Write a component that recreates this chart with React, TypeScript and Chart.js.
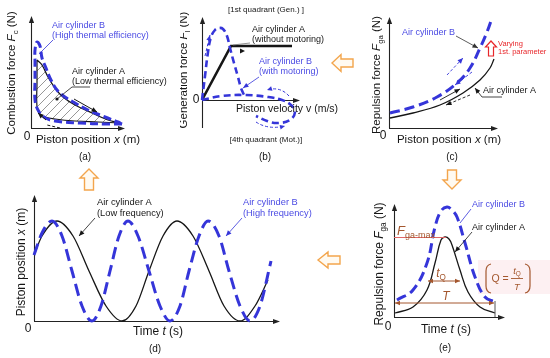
import React, { useEffect, useRef } from "react";
import { Chart, registerables } from "chart.js";
Chart.register(...registerables);

const FONT = '"Liberation Sans", Arial, Helvetica, sans-serif';
const BLUE = "#3535d9";
const BLUE_T = "#4b4be3";
const BROWN = "#a4572e";
const RED = "#e8262a";
const ORANGE = "#f3a54c";
const INK = "#161616";

type P = [number, number];

// ---------- (a) combustion force vs piston position ----------
const aBlueLoop: P[] = [[91, 4], [74, 4], [49, 5], [24, 7], [13, 11], [7, 18], [4, 28], [4, 48], [4, 68], [4, 78], [6, 86], [9, 82], [11, 70], [15, 60], [19, 50], [26, 38], [34, 31], [44, 25], [57, 18], [74, 11], [87, 6], [91, 4]];
const aBlackUpper: P[] = [[6, 68], [11, 63], [17, 51], [24, 40], [32, 31], [44, 23], [61, 15], [77, 8], [89, 5]];
const aBlackLower: P[] = [[6, 68], [6, 45], [6, 21], [9, 14], [14, 11], [24, 9], [44, 7], [67, 6], [89, 5]];
const aHatchBase: P[] = [[6, 21], [9, 14], [14, 11], [24, 9], [44, 7], [67, 6], [89, 5]];

// ---------- (b) generation force vs piston velocity ----------
const bBlackLine: P[] = [[0, 0], [29, 54], [90, 54]];
const bBlueUpper: P[] = [[0, 0], [3, 24], [6, 48], [9, 63], [13, 70], [17, 72], [21, 71], [25, 64], [28, 52], [32, 37], [36, 23], [39, 12], [43, 3]];
const bBlueLower: P[] = [[0, 0], [20, 4], [43, 5], [66, 3], [80, 0], [89, -5], [93, -12], [88, -20], [76, -23], [65, -21], [54, -16]];

// ---------- (c) repulsion force vs piston position ----------
const cBlack: P[] = [[1, 10], [24, 15], [51, 23], [74, 35], [91, 48], [101, 60], [105, 69]];
const cBlue: P[] = [[1, 15], [24, 21], [48, 31], [68, 45], [81, 60], [91, 80], [98, 96], [103, 110]];

// ---------- (d) piston position vs time ----------
const dBlack: P[] = [[0, 66], [8, 85], [23, 100], [39, 85], [55, 50], [72, 15], [88, 0], [102, 15], [115, 50], [129, 85], [143, 100], [159, 85], [175, 50], [190, 15], [206, 0], [221, 15], [234, 41]];
const dBlue: P[] = [[0, 66], [8, 88], [18, 100], [28, 85], [38, 50], [48, 15], [58, 0], [67, 15], [76, 50], [85, 85], [94, 100], [104, 85], [115, 50], [126, 15], [136, 0], [146, 15], [155, 50], [165, 85], [174, 100], [185, 85], [195, 50], [206, 15], [216, 0], [226, 15], [237, 60]];

// ---------- (e) repulsion force vs time ----------
const eBlack: P[] = [[1, 4], [19, 10], [33, 27], [41, 54], [47, 77], [51, 80], [55, 78], [58, 72], [66, 47], [74, 25], [86, 10], [101, 4]];
const eBlue: P[] = [[3, 17], [19, 27], [33, 54], [41, 90], [47, 106], [53, 110], [58, 107], [63, 100], [71, 74], [81, 40], [91, 20], [101, 15]];

const pts = (a: P[]) => a.map(([x, y]) => ({ x, y }));

// ---------- drawing helpers ----------
type Seg = string | [string, string];
function rich(ctx: any, segs: Seg[], x: number, y: number, size: number, color = INK, align = "center", rotate = false) {
  const parts = segs.map((s) => (typeof s === "string" ? { t: s, f: "", w: 0 } : { t: s[0], f: s[1], w: 0 }));
  const fontOf = (p: any) => `${p.f.includes("i") ? "italic " : ""}${p.f.includes("s") ? size * 0.68 : size}px ${FONT}`;
  let total = 0;
  for (const p of parts) {
    ctx.font = fontOf(p);
    p.w = ctx.measureText(p.t).width;
    total += p.w;
  }
  ctx.save();
  ctx.translate(x, y);
  if (rotate) ctx.rotate(-Math.PI / 2);
  let cx = align === "center" ? -total / 2 : align === "right" ? -total : 0;
  ctx.fillStyle = color;
  ctx.textBaseline = "middle";
  ctx.textAlign = "left";
  for (const p of parts) {
    ctx.font = fontOf(p);
    ctx.fillText(p.t, cx, p.f.includes("s") ? size * 0.32 : 0);
    cx += p.w;
  }
  ctx.restore();
}
function txt(ctx: any, s: string, x: number, y: number, size: number, color = INK, align = "center", italic = false) {
  ctx.save();
  ctx.font = `${italic ? "italic " : ""}${size}px ${FONT}`;
  ctx.fillStyle = color;
  ctx.textAlign = align;
  ctx.textBaseline = "middle";
  ctx.fillText(s, x, y);
  ctx.restore();
}
function line(ctx: any, p: P[], color = INK, width = 1, dash: number[] = []) {
  ctx.save();
  ctx.strokeStyle = color;
  ctx.lineWidth = width;
  ctx.setLineDash(dash);
  ctx.beginPath();
  ctx.moveTo(p[0][0], p[0][1]);
  for (let i = 1; i < p.length; i++) ctx.lineTo(p[i][0], p[i][1]);
  ctx.stroke();
  ctx.restore();
}
function curve(ctx: any, a: P, c: P, b: P, color = INK, width = 1, dash: number[] = []) {
  ctx.save();
  ctx.strokeStyle = color;
  ctx.lineWidth = width;
  ctx.setLineDash(dash);
  ctx.beginPath();
  ctx.moveTo(a[0], a[1]);
  ctx.quadraticCurveTo(c[0], c[1], b[0], b[1]);
  ctx.stroke();
  ctx.restore();
}
function head(ctx: any, from: P, to: P, color = INK, len = 5.5, half = 2.4) {
  const ang = Math.atan2(to[1] - from[1], to[0] - from[0]);
  ctx.save();
  ctx.fillStyle = color;
  ctx.translate(to[0], to[1]);
  ctx.rotate(ang);
  ctx.beginPath();
  ctx.moveTo(0, 0);
  ctx.lineTo(-len, -half);
  ctx.lineTo(-len, half);
  ctx.closePath();
  ctx.fill();
  ctx.restore();
}
function arrow(ctx: any, p: P[], color = INK, width = 1, dash: number[] = [], len = 5.5, half = 2.4) {
  line(ctx, p, color, width, dash);
  head(ctx, p[p.length - 2], p[p.length - 1], color, len, half);
}
function curveArrow(ctx: any, a: P, c: P, b: P, color = INK, width = 1, dash: number[] = []) {
  curve(ctx, a, c, b, color, width, dash);
  head(ctx, c, b, color, 5, 2.3);
}
function dbl(ctx: any, a: P, b: P, color: string) {
  line(ctx, [a, b], color, 1);
  head(ctx, a, b, color, 5, 2.2);
  head(ctx, b, a, color, 5, 2.2);
}
function poly(ctx: any, p: P[], stroke: string, fill: string, width = 1.2) {
  ctx.save();
  ctx.beginPath();
  ctx.moveTo(p[0][0], p[0][1]);
  for (let i = 1; i < p.length; i++) ctx.lineTo(p[i][0], p[i][1]);
  ctx.closePath();
  ctx.fillStyle = fill;
  ctx.fill();
  ctx.strokeStyle = stroke;
  ctx.lineWidth = width;
  ctx.stroke();
  ctx.restore();
}

// ---------- dataset factories ----------
const blueDash = (d: P[], dash = [8, 4], w = 3, extra: any = {}) => ({
  data: pts(d), borderColor: BLUE, borderWidth: w, borderDash: dash, clip: false, pointRadius: 0, fill: false, ...extra,
});
const blackSolid = (d: P[], w = 1.3, extra: any = {}) => ({
  data: pts(d), borderColor: INK, borderWidth: w, clip: false, pointRadius: 0, fill: false, ...extra,
});

interface PanelDef {
  left: number; top: number; w: number; h: number;
  area: { l: number; t: number; r: number; b: number };
  yMin?: number;
  datasets: (pattern: any) => any[];
  under?: (ctx: any) => void;
  over: (ctx: any) => void;
}

const PANELS: PanelDef[] = [
  {
    left: 0, top: 0, w: 180, h: 165,
    area: { l: 31, t: 16, r: 125, b: 128 },
    datasets: (pattern) => [
      blueDash(aBlueLoop, [8, 4], 3),
      blackSolid(aBlackLower, 1.2),
      blackSolid(aBlackUpper, 1.3, { fill: 3, backgroundColor: pattern }),
      blackSolid(aHatchBase, 0, { borderWidth: 0 }),
    ],
    over: (ctx) => {
      rich(ctx, ["Combustion force ", ["F", "i"], ["c", "s"], " (N)"], 12, 73, 11.5, INK, "center", true);
      txt(ctx, "0", 27, 137, 12);
      rich(ctx, ["Piston position ", ["x", "i"], " (m)"], 88, 140, 11.5);
      txt(ctx, "(a)", 85, 157, 10);
      txt(ctx, "Air cylinder B", 52, 26, 9, BLUE_T, "left");
      txt(ctx, "(High thermal efficiency)", 52, 36, 9, BLUE_T, "left");
      line(ctx, [[53, 40], [39, 54]], BLUE, 0.8);
      txt(ctx, "Air cylinder A", 72, 72, 9, INK, "left");
      txt(ctx, "(Low thermal efficiency)", 72, 82, 9, INK, "left");
      line(ctx, [[90, 87], [72, 87], [57, 99]], INK, 0.8);
      ctx.beginPath(); ctx.fillStyle = INK; ctx.arc(57, 99, 1.6, 0, Math.PI * 2); ctx.fill();
      arrow(ctx, [[74, 99], [97, 112]], INK, 1);
      line(ctx, [[60, 128], [47, 125]], INK, 1, [3, 2]);
      arrow(ctx, [[46, 120], [38, 113]], INK, 1);
    },
  },
  {
    left: 180, top: 0, w: 180, h: 165,
    area: { l: 202, t: 17, r: 300, b: 128 },
    yMin: -28,
    datasets: () => [
      blueDash(bBlueUpper, [7, 4], 2.6),
      blueDash(bBlueLower, [7, 4], 2.6),
      blackSolid(bBlackLine, 2.6, { tension: 0 }),
    ],
    over: (ctx) => {
      rich(ctx, ["Generation force ", ["F", "i"], ["l", "s"], " (N)"], 184, 70, 11.5, INK, "center", true);
      txt(ctx, "0", 196, 100, 12);
      rich(ctx, ["Piston velocity v (m/s)"], 287, 109, 10.5);
      txt(ctx, "[1st quadrant (Gen.) ]", 266, 10, 8);
      txt(ctx, "[4th quadrant (Mot.)]", 266, 140, 8);
      txt(ctx, "(b)", 265, 157, 10);
      txt(ctx, "Air cylinder A", 252, 30, 9, INK, "left");
      txt(ctx, "(without motoring)", 252, 40, 9, INK, "left");
      line(ctx, [[250, 43], [233, 45]], "#777", 0.8);
      head(ctx, [238, 51], [245, 51], INK, 5, 2.5);
      txt(ctx, "Air cylinder B", 259, 62, 9, BLUE_T, "left");
      txt(ctx, "(with motoring)", 259, 72, 9, BLUE_T, "left");
      arrow(ctx, [[259, 77], [243, 88]], BLUE, 0.8);
      arrow(ctx, [[205, 56], [210, 35]], BLUE, 1, [3, 2]);
      curveArrow(ctx, [289, 96], [280, 86], [267, 90], BLUE, 1, [3, 2]);
      curveArrow(ctx, [256, 122], [268, 130], [285, 126], BLUE, 1, [3, 2]);
    },
  },
  {
    left: 360, top: 0, w: 190, h: 165,
    area: { l: 389, t: 17, r: 498, b: 128 },
    datasets: () => [
      blueDash(cBlue, [10, 5], 3),
      blackSolid(cBlack, 1.3),
    ],
    over: (ctx) => {
      rich(ctx, ["Repulsion force ", ["F", "i"], ["ga", "s"], " (N)"], 377, 75, 11.5, INK, "center", true);
      txt(ctx, "0", 383, 136, 12);
      rich(ctx, ["Piston position ", ["x", "i"], " (m)"], 449, 140, 11.5);
      txt(ctx, "(c)", 452, 157, 10);
      txt(ctx, "Air cylinder B", 402, 33, 9, BLUE_T, "left");
      arrow(ctx, [[456, 36], [478, 48]], "#333", 0.8);
      poly(ctx, [[491, 41], [496.5, 47], [493.5, 47], [493.5, 56], [488.5, 56], [488.5, 47], [485.5, 47]], RED, "#fff", 1.2);
      txt(ctx, "Varying", 498, 44, 7.5, RED, "left");
      txt(ctx, "1st. parameter", 498, 52, 7.5, RED, "left");
      txt(ctx, "Air cylinder A", 483, 91, 9, INK, "left");
      arrow(ctx, [[502, 97], [482, 97], [475, 88]], INK, 0.8);
      arrow(ctx, [[447, 75], [463, 58]], BLUE, 0.9, [3, 2]);
      arrow(ctx, [[472, 72], [455, 85]], BLUE, 0.9, [3, 2]);
      arrow(ctx, [[440, 100], [460, 89]], INK, 0.9);
      arrow(ctx, [[470, 95], [446, 105]], INK, 0.9, [3, 2]);
    },
  },
  {
    left: 0, top: 185, w: 360, h: 173,
    area: { l: 34, t: 195, r: 280, b: 321 },
    datasets: () => [
      blueDash(dBlue, [12, 6], 3, { cubicInterpolationMode: "monotone" }),
      blackSolid(dBlack, 1.3, { cubicInterpolationMode: "monotone" }),
    ],
    over: (ctx) => {
      rich(ctx, ["Piston position ", ["x", "i"], " (m)"], 22, 262, 12, INK, "center", true);
      txt(ctx, "0", 28, 329, 12);
      rich(ctx, ["Time ", ["t", "i"], " (s)"], 158, 332, 12);
      txt(ctx, "(d)", 155, 349, 10);
      txt(ctx, "Air cylinder A", 97, 202, 9.3, INK, "left");
      txt(ctx, "(Low frequency)", 97, 213, 9.3, INK, "left");
      arrow(ctx, [[95, 218], [79, 236]], INK, 0.8);
      txt(ctx, "Air cylinder B", 243, 202, 9.3, BLUE_T, "left");
      txt(ctx, "(High frequency)", 243, 213, 9.3, BLUE_T, "left");
      arrow(ctx, [[242, 218], [226, 236]], BLUE, 0.8);
    },
  },
  {
    left: 360, top: 190, w: 190, h: 168,
    area: { l: 394, t: 204, r: 505, b: 317 },
    datasets: () => [
      blueDash(eBlue, [10, 5], 3),
      blackSolid(eBlack, 1.3),
    ],
    under: (ctx) => {
      ctx.fillStyle = "#fdf0f2";
      ctx.fillRect(478, 260, 72, 34);
    },
    over: (ctx) => {
      rich(ctx, ["Repulsion force ", ["F", "i"], ["ga", "s"], " (N)"], 380, 264, 12, INK, "center", true);
      txt(ctx, "0", 388, 327, 12);
      rich(ctx, ["Time ", ["t", "i"], " (s)"], 446, 330, 12);
      txt(ctx, "(e)", 445, 348, 10);
      line(ctx, [[394, 237.5], [446, 237.5]], "#e06666", 1);
      rich(ctx, [["F", "i"]], 397, 231, 13, BROWN, "left");
      txt(ctx, "ga-max", 405, 236, 9, BROWN, "left");
      dbl(ctx, [428, 281], [460, 281], BROWN);
      rich(ctx, [["t", "i"], ["Q", "s"]], 441, 274, 12, BROWN);
      dbl(ctx, [395, 303], [494, 303], BROWN);
      txt(ctx, "T", 446, 297, 12, BROWN, "center", true);
      line(ctx, [[495, 301], [495, 317]], "#555", 1);
      ctx.save();
      ctx.strokeStyle = BROWN; ctx.lineWidth = 1.2;
      ctx.beginPath(); ctx.moveTo(491, 264); ctx.quadraticCurveTo(486, 265, 486, 271); ctx.lineTo(486, 286); ctx.quadraticCurveTo(486, 292, 491, 293); ctx.stroke();
      ctx.beginPath(); ctx.moveTo(525, 264); ctx.quadraticCurveTo(530, 265, 530, 271); ctx.lineTo(530, 286); ctx.quadraticCurveTo(530, 292, 525, 293); ctx.stroke();
      ctx.restore();
      txt(ctx, "Q =", 500, 279, 10.5, BROWN);
      rich(ctx, [["t", "i"], ["Q", "s"]], 517, 271, 9.5, BROWN);
      line(ctx, [[511, 278.5], [523, 278.5]], BROWN, 0.9);
      txt(ctx, "T", 517, 287, 9.5, BROWN, "center", true);
      txt(ctx, "Air cylinder B", 472, 205, 9, BLUE_T, "left");
      line(ctx, [[471, 209], [460, 223]], BLUE, 0.8);
      txt(ctx, "Air cylinder A", 472, 228, 9, INK, "left");
      arrow(ctx, [[472, 232], [455, 252]], INK, 0.8);
    },
  },
];

function drawAxes(chart: any) {
  const ctx = chart.ctx;
  const ca = chart.chartArea;
  const y0 = Math.round(chart.scales.y.getPixelForValue(0)) + 0.5;
  const x0 = Math.round(ca.left) + 0.5;
  ctx.save();
  ctx.strokeStyle = "#222";
  ctx.lineWidth = 1.1;
  ctx.beginPath();
  ctx.moveTo(x0, ca.bottom);
  ctx.lineTo(x0, ca.top + 3);
  ctx.moveTo(ca.left, y0);
  ctx.lineTo(ca.right - 3, y0);
  ctx.stroke();
  ctx.restore();
  head(ctx, [x0, ca.bottom], [x0, ca.top], "#222", 7, 2.6);
  head(ctx, [ca.left, y0], [ca.right, y0], "#222", 7, 2.6);
}

function makeChart(canvas: HTMLCanvasElement, def: PanelDef, pattern: any) {
  const a = def.area;
  const yMin = def.yMin ?? 0;
  const overlay = {
    id: "overlay",
    beforeDraw(chart: any) {
      if (!def.under) return;
      const c = chart.ctx;
      c.save(); c.translate(-def.left, -def.top); def.under(c); c.restore();
    },
    beforeDatasetsDraw(chart: any) {
      drawAxes(chart);
    },
    afterDatasetsDraw(chart: any) {
      const c = chart.ctx;
      c.save(); c.translate(-def.left, -def.top); def.over(c); c.restore();
    },
  };
  return new Chart(canvas, {
    type: "line",
    data: { datasets: def.datasets(pattern) },
    options: {
      animation: false,
      responsive: false,
      maintainAspectRatio: false,
      devicePixelRatio: 1,
      events: [],
      layout: { padding: { left: a.l - def.left, top: a.t - def.top, right: def.left + def.w - a.r, bottom: def.top + def.h - a.b } },
      scales: {
        x: { type: "linear", display: false, min: 0, max: a.r - a.l },
        y: { type: "linear", display: false, min: yMin, max: yMin + (a.b - a.t) },
      },
      plugins: { legend: { display: false }, tooltip: { enabled: false }, title: { display: false } },
      elements: { point: { radius: 0, hoverRadius: 0 }, line: { tension: 0.4, borderCapStyle: "butt" } },
    } as any,
    plugins: [overlay],
  });
}

function makeHatch() {
  const c = document.createElement("canvas");
  c.width = 9; c.height = 9;
  const g = c.getContext("2d")!;
  g.strokeStyle = "#6a6a6a";
  g.lineWidth = 0.7;
  g.beginPath();
  g.moveTo(-1, 10); g.lineTo(10, -1);
  g.moveTo(-3, 3); g.lineTo(3, -3);
  g.moveTo(6, 12); g.lineTo(12, 6);
  g.stroke();
  return g.createPattern(c, "repeat");
}

const ORANGE_ARROWS: P[][] = [
  [[89, 169], [98, 178], [93.5, 178], [93.5, 190], [84.5, 190], [84.5, 178], [80, 178]],
  [[332, 63], [341, 54.5], [341, 59], [353, 59], [353, 67], [341, 67], [341, 71.5]],
  [[452, 189], [461, 180], [456.5, 180], [456.5, 170], [447.5, 170], [447.5, 180], [443, 180]],
  [[318, 260], [328, 252], [328, 256], [340, 256], [340, 264], [328, 264], [328, 268]],
];

export default function App() {
  const refs = useRef<(HTMLCanvasElement | null)[]>([]);
  useEffect(() => {
    const pattern = makeHatch();
    const charts = PANELS.map((def, i) => makeChart(refs.current[i]!, def, pattern));
    return () => charts.forEach((c) => c.destroy());
  }, []);
  return (
    <div style={{ position: "fixed", left: 0, top: 0, width: 550, height: 358, background: "#fff", overflow: "hidden" }}>
      {PANELS.map((p, i) => (
        <canvas
          key={i}
          ref={(el) => { refs.current[i] = el; }}
          width={p.w}
          height={p.h}
          style={{ position: "absolute", left: p.left, top: p.top, width: p.w, height: p.h }}
        />
      ))}
      <svg width={550} height={358} style={{ position: "absolute", left: 0, top: 0, pointerEvents: "none" }}>
        {ORANGE_ARROWS.map((a, i) => (
          <polygon key={i} points={a.map((q) => q.join(",")).join(" ")} fill="#fffaf1" stroke={ORANGE} strokeWidth={1.4} strokeLinejoin="miter" />
        ))}
      </svg>
    </div>
  );
}
